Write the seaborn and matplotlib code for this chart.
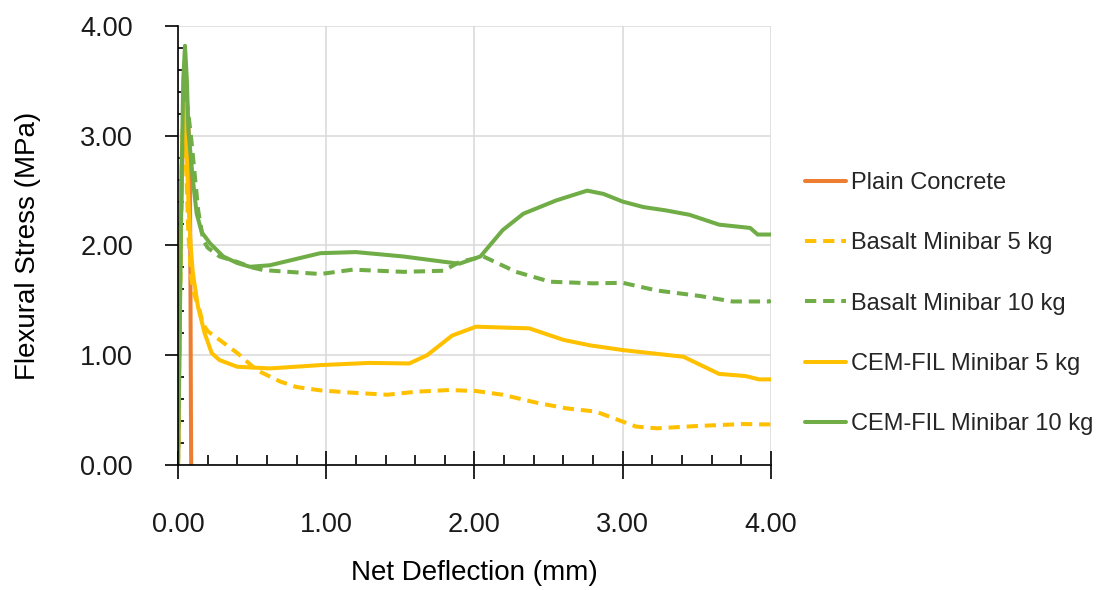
import numpy as np
import pandas as pd
import seaborn as sns
import matplotlib.pyplot as plt
from matplotlib.ticker import MultipleLocator, FormatStrFormatter

# series (deflection mm, stress MPa)
plain_x = [0, 0.005, 0.015, 0.03, 0.05, 0.07, 0.08, 0.084, 0.087, 0.089]
plain_y = [0, 0.8, 2.0, 2.8, 3.15, 3.1, 2.7, 1.6, 0.5, 0]

basalt5_x = [0, 0.01, 0.025, 0.04, 0.055, 0.07, 0.09, 0.11, 0.14, 0.17, 0.2, 0.26, 0.3, 0.4,
             0.53, 0.69, 0.8, 0.96, 1.16, 1.41, 1.61, 1.83, 2.01, 2.19, 2.42, 2.62, 2.82,
             3.0, 3.09, 3.23, 3.5, 3.81, 3.96, 4.0]
basalt5_y = [0, 1.2, 2.6, 3.1, 2.7, 2.1, 1.7, 1.55, 1.44, 1.28, 1.22, 1.16, 1.12, 1.02,
             0.865, 0.76, 0.71, 0.68, 0.66, 0.64, 0.668, 0.683, 0.674, 0.64, 0.567, 0.516, 0.486,
             0.395, 0.35, 0.334, 0.355, 0.373, 0.37, 0.37]

basalt10_x = [0, 0.01, 0.025, 0.04, 0.05, 0.07, 0.09, 0.136, 0.17, 0.2, 0.28, 0.4, 0.5, 0.575,
              0.96, 1.18, 1.52, 1.79, 1.9, 2.06, 2.28, 2.51, 2.8, 3.0, 3.23, 3.52, 3.74, 3.99, 4.0]
basalt10_y = [0, 1.3, 2.7, 3.35, 3.4, 3.2, 2.96, 2.32, 2.05, 1.98, 1.90, 1.85, 1.80, 1.776,
              1.74, 1.78, 1.76, 1.77, 1.85, 1.90, 1.76, 1.67, 1.655, 1.66, 1.59, 1.54, 1.49, 1.49, 1.5]

cem5_x = [0, 0.01, 0.025, 0.04, 0.055, 0.07, 0.085, 0.1, 0.135, 0.18, 0.227, 0.28, 0.4, 0.62,
          0.96, 1.29, 1.56, 1.68, 1.85, 2.01, 2.37, 2.6, 2.78, 3.0, 3.41, 3.65, 3.83, 3.92, 4.0]
cem5_y = [0, 1.3, 2.8, 3.3, 3.0, 2.4, 2.0, 1.75, 1.44, 1.20, 1.02, 0.956, 0.895, 0.88,
          0.91, 0.93, 0.925, 1.0, 1.18, 1.26, 1.245, 1.14, 1.09, 1.047, 0.986, 0.83, 0.81, 0.78, 0.78]

cem10_x = [0, 0.01, 0.02, 0.035, 0.047, 0.06, 0.07, 0.1, 0.126, 0.16, 0.216, 0.305, 0.4, 0.486,
           0.62, 0.96, 1.2, 1.52, 1.86, 1.9, 2.04, 2.19, 2.33, 2.55, 2.76, 2.87, 3.0, 3.14,
           3.29, 3.45, 3.65, 3.86, 3.91, 4.0]
cem10_y = [0, 1.0, 2.2, 3.5, 3.82, 3.5, 3.05, 2.6, 2.29, 2.12, 2.02, 1.90, 1.84, 1.806,
           1.82, 1.93, 1.94, 1.90, 1.84, 1.835, 1.90, 2.14, 2.29, 2.41, 2.50, 2.47, 2.40, 2.35,
           2.32, 2.28, 2.19, 2.16, 2.10, 2.10]

names = ['Plain Concrete', 'Basalt Minibar 5 kg', 'Basalt Minibar 10 kg',
         'CEM-FIL Minibar 5 kg', 'CEM-FIL Minibar 10 kg']
xs = [plain_x, basalt5_x, basalt10_x, cem5_x, cem10_x]
ys = [plain_y, basalt5_y, basalt10_y, cem5_y, cem10_y]

df = pd.concat([pd.DataFrame({'x': x, 'y': y, 'series': n}) for n, x, y in zip(names, xs, ys)],
               ignore_index=True)

palette = {names[0]: '#ED7D31', names[1]: '#FFC000', names[2]: '#70AD47',
           names[3]: '#FFC000', names[4]: '#70AD47'}
dashes = {names[0]: '', names[1]: (2.8, 1.7), names[2]: (2.8, 1.7),
          names[3]: '', names[4]: ''}

sns.set_style('white')
plt.rcParams['font.family'] = ['Liberation Sans', 'DejaVu Sans']

fig = plt.figure(figsize=(11.05, 5.9), dpi=100)
ax = fig.add_axes([0.1611, 0.2119, 0.5366, 0.744])

sns.lineplot(data=df, x='x', y='y', hue='series', style='series', hue_order=names,
             style_order=names, palette=palette, dashes=dashes, sort=False,
             estimator=None, linewidth=2.9, ax=ax)

ax.set_xlim(0, 4)
ax.set_ylim(0, 4)
ax.xaxis.set_major_locator(MultipleLocator(1))
ax.yaxis.set_major_locator(MultipleLocator(1))
ax.xaxis.set_minor_locator(MultipleLocator(0.2))
ax.yaxis.set_minor_locator(MultipleLocator(0.2))
ax.xaxis.set_major_formatter(FormatStrFormatter('%.2f'))
ax.yaxis.set_major_formatter(FormatStrFormatter('%.2f'))

ax.grid(which='major', color='#D9D9D9', lw=1.1)
ax.set_axisbelow(True)
for s in ['top', 'right']:
    ax.spines[s].set_visible(False)
for s in ['left', 'bottom']:
    ax.spines[s].set_color('black')
    ax.spines[s].set_linewidth(1.2)
    ax.spines[s].set_zorder(5)

ax.tick_params(which='both', bottom=True, left=True, top=False, right=False)
ax.tick_params(axis='x', which='major', direction='inout', length=20, width=1.2,
               pad=24, labelsize=19.5, colors='black', labelcolor='#1a1a1a')
ax.tick_params(axis='x', which='minor', direction='in', length=7.5, width=1.2, colors='black')
ax.tick_params(axis='y', which='major', direction='out', length=9.5, width=1.2,
               pad=23, labelsize=19.5, colors='black', labelcolor='#1a1a1a')
ax.tick_params(axis='y', which='minor', direction='in', length=4.5, width=1.2, colors='black')

ax.set_xlabel('Net Deflection (mm)', fontsize=20, labelpad=16, color='black')
ax.set_ylabel('Flexural Stress (MPa)', fontsize=20, labelpad=28, color='black')

handles, labels = ax.get_legend_handles_labels()
ax.get_legend().remove()
fig.legend(handles, labels, loc='center left', bbox_to_anchor=(0.7285, 0.4855),
           frameon=False, fontsize=17, handlelength=1.75, handletextpad=0.2,
           labelspacing=1.62, borderpad=0, borderaxespad=0)

fig.savefig('out.png', dpi=100)
